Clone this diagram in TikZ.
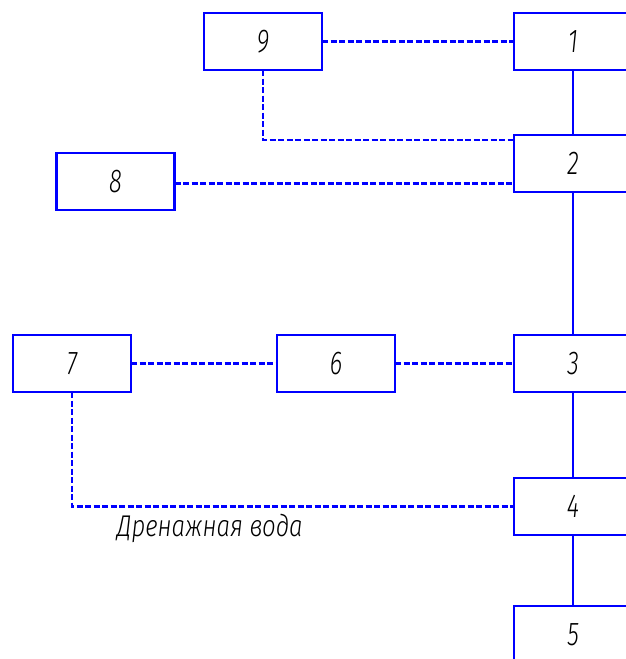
\documentclass[tikz,border=0pt]{standalone}
\usepackage{fontspec}
\newfontfamily\gostfont[FakeStretch=0.72]{Fira Sans Light Italic}
\newfontfamily\gostlabel[FakeStretch=0.8]{Fira Sans Light Italic}
\usetikzlibrary{positioning}

\begin{document}
\begin{tikzpicture}[x=1pt, y=-1pt, node distance=60pt,
  every node/.style={font=\gostfont\fontsize{33}{36}\selectfont},
  block/.style={draw=blue, line width=2.8pt, minimum width=118pt, minimum height=57pt, inner sep=0pt, outer sep=0pt},
  pipe/.style={draw=blue, line width=2.8pt},
  drain/.style={draw=blue, line width=2.2pt, dash pattern=on 6pt off 2.5pt}]
\useasboundingbox (0,0) rectangle (626,659);
\clip (0,0) rectangle (626,659);
% Main line
\node[block] (n1) at (573,41.5) {1};
\node[block,below=65pt of n1] (n2) {2};
\node[block,below=143pt of n2] (n3) {3};
\node[block,below=86pt of n3] (n4) {4};
\node[block,below=71pt of n4] (n5) {5};
% Side blocks
\node[block,left=192pt of n1] (n9) {9};
\node[block] (n8) at (115.5,181.5) {8};
\node[block,left=119pt of n3] (n6) {6};
\node[block,left=146pt of n6] (n7) {7};
% Solid flow
\draw[pipe] (n1) -- (n2);
\draw[pipe] (n2) -- (n3);
\draw[pipe] (n3) -- (n4);
\draw[pipe] (n4) -- (n5);
% Dashed links
\draw[drain] (n9.east) -- (n1.west);
\draw[drain] (n9.south) |- ([yshift=-5pt]n2.north west);
\draw[drain] ([yshift=-2pt]n8.east) -- ([yshift=-2pt]n8.east -| n2.west);
\draw[drain] (n7.east) -- (n6.west);
\draw[drain] (n6.east) -- (n3.west);
\draw[drain] (n7.south) |- node[pos=0.656, below=3pt, font=\gostlabel\fontsize{30}{32}\selectfont]{Дренажная вода} (n4.west);
\end{tikzpicture}
\end{document}
